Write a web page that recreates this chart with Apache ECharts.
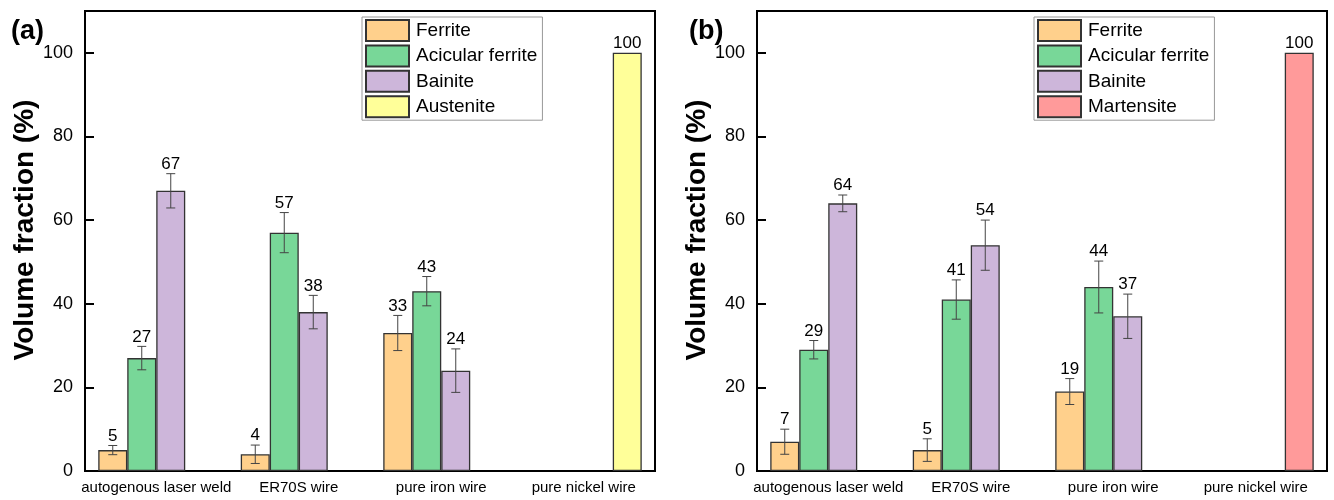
<!DOCTYPE html>
<html>
<head>
<meta charset="utf-8">
<script src="https://cdn.jsdelivr.net/npm/echarts@6/dist/echarts.min.js"></script>
<style>
  html, body { margin: 0; padding: 0; background: #fff; }
  #chart { width: 1334px; height: 500px; }
</style>
</head>
<body>
<div id="chart"></div>
<script>
// Microstructure volume fractions for two weld conditions, with standard deviations.
const categories = ['autogenous laser weld', 'ER70S wire', 'pure iron wire', 'pure nickel wire'];
const yTicks = [0, 20, 40, 60, 80, 100];

// Panel (a)
const aFerrite      = [5, 4, 33, null];
const aFerriteErr   = [1.1, 2.2, 4.2, null];
const aAcicular     = [27, 57, 43, null];
const aAcicularErr  = [2.8, 4.8, 3.5, null];
const aBainite      = [67, 38, 24, null];
const aBainiteErr   = [4.1, 4.0, 5.2, null];
const aAustenite    = [null, null, null, 100];
const aAusteniteErr = [null, null, null, 0];

// Panel (b)
const bFerrite       = [7, 5, 19, null];
const bFerriteErr    = [3.0, 2.7, 3.1, null];
const bAcicular      = [29, 41, 44, null];
const bAcicularErr   = [2.2, 4.7, 6.2, null];
const bBainite       = [64, 54, 37, null];
const bBainiteErr    = [2.0, 6.0, 5.3, null];
const bMartensite    = [null, null, null, 100];
const bMartensiteErr = [null, null, null, 0];

const COLORS = {
  'Ferrite': '#FFD08C',
  'Acicular ferrite': '#78D798',
  'Bainite': '#CDB6DA',
  'Austenite': '#FFFF99',
  'Martensite': '#FF9A9A'
};
const BAR_W = 29;
const FONT = '"Liberation Sans", Arial, sans-serif';

function barSeries(name, data, gi) {
  return {
    type: 'bar', name, data,
    xAxisIndex: gi, yAxisIndex: gi,
    barWidth: BAR_W, barGap: '0%',
    itemStyle: { color: COLORS[name], borderColor: '#333', borderWidth: 1.3 },
    emphasis: { disabled: true }
  };
}

// Error bars and value labels, offset to each bar's slot within the group
function errorSeries(lists, gi) {
  const data = [];
  lists.forEach((pair, k) => {
    pair[0].forEach((v, ci) => {
      if (v !== null) data.push([ci, v, pair[1][ci] || 0, k]);
    });
  });
  return {
    type: 'custom', xAxisIndex: gi, yAxisIndex: gi, clip: false, z: 5,
    encode: { x: 0, y: 1 },
    data,
    renderItem: function (params, api) {
      const ci = api.value(0), v = api.value(1), e = api.value(2), k = api.value(3);
      const p = api.coord([ci, v]);
      const x = p[0] + (k - 1.5) * BAR_W;
      const children = [];
      let topY = p[1];
      const st = { stroke: '#444', lineWidth: 1 };
      if (e > 0) {
        const hi = api.coord([ci, v + e])[1];
        const lo = api.coord([ci, v - e])[1];
        children.push({ type: 'line', shape: { x1: x, y1: hi, x2: x, y2: lo }, style: st });
        children.push({ type: 'line', shape: { x1: x - 4.5, y1: hi, x2: x + 4.5, y2: hi }, style: st });
        children.push({ type: 'line', shape: { x1: x - 4.5, y1: lo, x2: x + 4.5, y2: lo }, style: st });
        topY = hi;
      }
      children.push({
        type: 'text',
        style: {
          text: String(v), x: x, y: topY - 1,
          align: 'center', verticalAlign: 'bottom',
          fill: '#000', font: '17px ' + FONT
        }
      });
      return { type: 'group', children };
    }
  };
}

const grids = [
  { left: 85, top: 11, width: 570, height: 460 },
  { left: 757, top: 11, width: 570, height: 460 }
];

function xAxis(gi) {
  return {
    type: 'category', gridIndex: gi, data: categories,
    axisLine: { lineStyle: { color: '#000', width: 2 } },
    axisTick: { show: false },
    axisLabel: { color: '#000', fontSize: 15, fontFamily: FONT, margin: 9, interval: 0 }
  };
}
function yAxis(gi) {
  return {
    type: 'value', gridIndex: gi, min: 0, max: 110, interval: 20,
    name: 'Volume fraction (%)', nameLocation: 'middle', nameGap: 45,
    nameTextStyle: { color: '#000', fontSize: 28, fontWeight: 'bold', fontFamily: FONT, padding: [0, 0, 0, 22] },
    axisLine: { show: true, lineStyle: { color: '#000', width: 2 } },
    axisTick: { show: true, inside: true, length: 9, lineStyle: { color: '#000', width: 2 } },
    axisLabel: {
      color: '#000', fontSize: 18, fontFamily: FONT, margin: 12, showMaxLabel: false,
      formatter: v => (yTicks.indexOf(v) >= 0 ? String(v) : '')
    },
    splitLine: { show: false }
  };
}

function legend(names, left) {
  return {
    data: names, orient: 'vertical', left: left, top: 17,
    itemWidth: 43, itemHeight: 21, itemGap: 2.4,
    padding: [2, 5, 2, 3],
    borderColor: '#999', borderWidth: 1,
    icon: 'rect',
    textStyle: { color: '#000', fontSize: 19, lineHeight: 21, fontFamily: FONT, padding: [0, 0, 0, 2] },
    selectedMode: false
  };
}

const chart = echarts.init(document.getElementById('chart'), null, { renderer: 'canvas' });
chart.setOption({
  animation: false,
  backgroundColor: '#fff',
  title: [
    { text: '(a)', left: 6, top: 13, textStyle: { fontSize: 27, fontWeight: 'bold', fontFamily: FONT, color: '#000' } },
    { text: '(b)', left: 684, top: 13, textStyle: { fontSize: 27, fontWeight: 'bold', fontFamily: FONT, color: '#000' } }
  ],
  grid: grids.map(g => Object.assign({ show: true, borderColor: '#000', borderWidth: 2, backgroundColor: 'transparent' }, g)),
  legend: [
    legend(['Ferrite', 'Acicular ferrite', 'Bainite', 'Austenite'], 362),
    legend(['Ferrite', 'Acicular ferrite', 'Bainite', 'Martensite'], 1034)
  ],
  xAxis: [xAxis(0), xAxis(1)],
  yAxis: [yAxis(0), yAxis(1)],
  series: [
    barSeries('Ferrite', aFerrite, 0),
    barSeries('Acicular ferrite', aAcicular, 0),
    barSeries('Bainite', aBainite, 0),
    barSeries('Austenite', aAustenite, 0),
    errorSeries([[aFerrite, aFerriteErr], [aAcicular, aAcicularErr], [aBainite, aBainiteErr], [aAustenite, aAusteniteErr]], 0),
    barSeries('Ferrite', bFerrite, 1),
    barSeries('Acicular ferrite', bAcicular, 1),
    barSeries('Bainite', bBainite, 1),
    barSeries('Martensite', bMartensite, 1),
    errorSeries([[bFerrite, bFerriteErr], [bAcicular, bAcicularErr], [bBainite, bBainiteErr], [bMartensite, bMartensiteErr]], 1)
  ]
});
</script>
</body>
</html>
